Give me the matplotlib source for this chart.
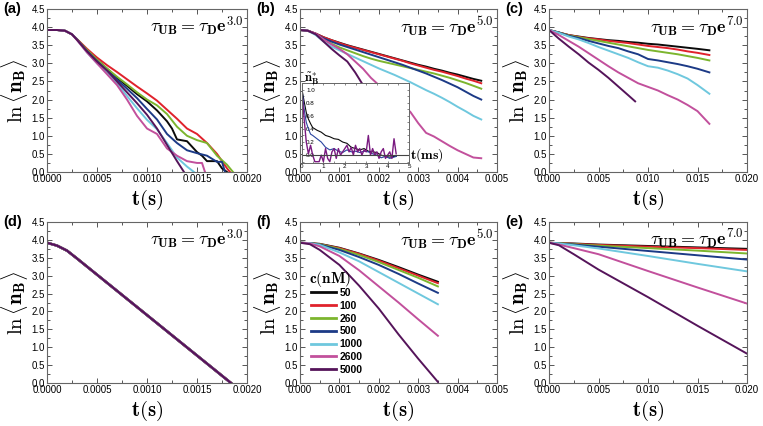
import numpy as np
import matplotlib
matplotlib.use('Agg')
import matplotlib.pyplot as plt
from matplotlib.ticker import AutoMinorLocator, FormatStrFormatter, MultipleLocator

plt.rcParams['mathtext.fontset'] = 'cm'
plt.rcParams['font.family'] = ['Liberation Sans', 'DejaVu Sans']

# concentrations c(nM) and the colour used for each
conc = ['50', '100', '260', '500', '1000', '2600', '5000']
colors = ['#0a0a0a', '#e0222c', '#7cb52e', '#1c3a86', '#6fc8de', '#c2509c', '#55145a']

# ---- panel (a): simulation, tau_UB = tau_D e^3.0 ----
a_t = [
    [0, 0.0001, 0.00018, 0.00025, 0.0003, 0.0004, 0.0005, 0.0006, 0.0007, 0.0008, 0.0009, 0.001, 0.0011, 0.0012,
     0.00125, 0.0013, 0.0014, 0.0015, 0.00155, 0.0016, 0.0017, 0.00175, 0.0018],
    [0, 0.0001, 0.00018, 0.00025, 0.0003, 0.0004, 0.0005, 0.0006, 0.0007, 0.0008, 0.0009, 0.001, 0.0011, 0.0012,
     0.0013, 0.0014, 0.0015, 0.0016, 0.0017, 0.00175, 0.0018, 0.00183],
    [0, 0.0001, 0.00018, 0.00025, 0.0003, 0.0004, 0.0005, 0.0006, 0.0007, 0.0008, 0.0009, 0.001, 0.0011, 0.0012,
     0.0013, 0.0014, 0.0015, 0.0016, 0.0017, 0.0018, 0.00186],
    [0, 0.0001, 0.00018, 0.00025, 0.0003, 0.0004, 0.0005, 0.0006, 0.0007, 0.0008, 0.0009, 0.001, 0.0011, 0.0012,
     0.0013, 0.0014, 0.0015, 0.0016, 0.0017, 0.00175, 0.00178],
    [0, 0.0001, 0.00018, 0.00025, 0.0003, 0.0004, 0.0005, 0.0006, 0.0007, 0.0008, 0.0009, 0.001, 0.0011, 0.0012,
     0.0013, 0.0014, 0.00147],
    [0, 0.0001, 0.00018, 0.00025, 0.0003, 0.0004, 0.0005, 0.0006, 0.0007, 0.0008, 0.0009, 0.001, 0.0011, 0.0012,
     0.0013, 0.0014, 0.0015, 0.00155, 0.00158],
    [0, 0.0001, 0.00018, 0.00025, 0.0003, 0.0004, 0.0005, 0.0006, 0.0007, 0.0008, 0.0009, 0.001, 0.0011, 0.0012,
     0.0013, 0.00137],
]
a_y = [
    [3.92, 3.92, 3.9, 3.8, 3.66, 3.36, 3.1, 2.85, 2.6, 2.38, 2.15, 1.95, 1.7, 1.4,
     1.2, 0.9, 0.85, 0.55, 0.45, 0.3, 0.3, 0.1, 0.0],
    [3.92, 3.92, 3.9, 3.8, 3.67, 3.4, 3.16, 2.95, 2.76, 2.56, 2.36, 2.17, 1.97, 1.72,
     1.47, 1.2, 1.05, 0.8, 0.5, 0.3, 0.1, 0.0],
    [3.92, 3.92, 3.9, 3.8, 3.66, 3.37, 3.1, 2.86, 2.63, 2.42, 2.2, 2.0, 1.84, 1.6,
     1.25, 1.0, 0.88, 0.8, 0.45, 0.2, 0.0],
    [3.92, 3.92, 3.9, 3.8, 3.66, 3.34, 3.06, 2.8, 2.55, 2.3, 2.04, 1.74, 1.45, 1.05,
     0.8, 0.6, 0.52, 0.45, 0.28, 0.28, 0.0],
    [3.92, 3.92, 3.9, 3.8, 3.65, 3.3, 3.0, 2.74, 2.45, 2.1, 1.76, 1.44, 1.18, 0.8,
     0.4, 0.15, 0.0],
    [3.92, 3.92, 3.9, 3.8, 3.64, 3.3, 3.0, 2.7, 2.4, 2.0, 1.55, 1.2, 1.05, 0.65,
     0.45, 0.3, 0.25, 0.25, 0.0],
    [3.92, 3.92, 3.9, 3.8, 3.65, 3.33, 3.05, 2.8, 2.5, 2.2, 1.9, 1.58, 1.2, 0.75,
     0.3, 0.0],
]

# ---- panel (b): simulation, tau_UB = tau_D e^5.0 ----
b_t = [0, 0.0002, 0.0004, 0.0006, 0.0008, 0.001, 0.0012, 0.0014, 0.0016, 0.0018, 0.002, 0.0022,
       0.0024, 0.0026, 0.0028, 0.003, 0.0032, 0.0034, 0.0036, 0.0038, 0.004, 0.0042, 0.0044, 0.0046]
b_y = [
    [3.92, 3.9, 3.82, 3.72, 3.64, 3.57, 3.5, 3.44, 3.38, 3.32, 3.26, 3.2,
     3.14, 3.08, 3.02, 2.96, 2.91, 2.85, 2.8, 2.74, 2.69, 2.63, 2.57, 2.52],
    [3.92, 3.9, 3.82, 3.72, 3.64, 3.56, 3.49, 3.43, 3.37, 3.31, 3.25, 3.19,
     3.13, 3.07, 3.0, 2.94, 2.88, 2.82, 2.77, 2.71, 2.65, 2.58, 2.52, 2.45],
    [3.92, 3.9, 3.8, 3.66, 3.54, 3.44, 3.36, 3.28, 3.2, 3.13, 3.07, 3.02,
     2.97, 2.92, 2.87, 2.82, 2.77, 2.72, 2.66, 2.6, 2.53, 2.46, 2.38, 2.3],
    [3.92, 3.9, 3.81, 3.69, 3.6, 3.52, 3.45, 3.38, 3.31, 3.24, 3.17, 3.1,
     3.03, 2.96, 2.88, 2.8, 2.72, 2.63, 2.54, 2.44, 2.34, 2.22, 2.1, 2.0],
    [3.92, 3.9, 3.78, 3.6, 3.46, 3.36, 3.26, 3.16, 3.06, 2.96, 2.86, 2.77,
     2.68, 2.58, 2.48, 2.37, 2.26, 2.16, 2.05, 1.93, 1.8, 1.68, 1.55, 1.45],
    [3.92, 3.9, 3.82, 3.66, 3.52, 3.4, 3.25, 3.05, 2.85, 2.6, 2.4, 2.2,
     2.0, 1.85, 1.66, 1.35, 1.08, 0.98, 0.85, 0.72, 0.6, 0.5, 0.4, 0.38],
    [3.92, 3.9, 3.8, 3.6, 3.4, 3.22, 3.05, 2.75, 2.4, 2.0, 1.6, 1.2,
     0.8],
]

# inset of (b): normalised fluctuation n_B* versus t (ms)
ins_t = [0, 0.1, 0.2, 0.3, 0.4, 0.5, 0.7, 0.9, 1.1, 1.3, 1.5, 1.7, 1.9, 2.1, 2.3, 2.5, 2.7, 2.9,
         3.1, 3.3, 3.5, 3.7, 3.9, 4.1, 4.3, 4.4]
ins_black = [1.0, 0.82, 0.65, 0.55, 0.48, 0.42, 0.38, 0.35, 0.3, 0.28, 0.25, 0.24, 0.2, 0.18, 0.12, 0.1, 0.08,
             0.1, 0.06, 0.05, 0.04, 0.0, -0.02, -0.03, -0.02, -0.02]
ins_blue = [1.0, 0.7, 0.5, 0.4, 0.32, 0.3, 0.25, 0.2, 0.12, 0.08, 0.1, 0.06, 0.04, 0.08, 0.05, 0.06, 0.04,
            0.06, 0.05, 0.02, 0.0, -0.04, -0.02, -0.05, -0.03, -0.02]
ins_pt = [0, 0.1, 0.2, 0.3, 0.4, 0.5, 0.6, 0.7, 0.8, 0.9, 1.0, 1.1, 1.2, 1.3, 1.4, 1.5, 1.6, 1.7, 1.8, 1.9,
          2.0, 2.1, 2.2, 2.3, 2.4, 2.5, 2.6, 2.7, 2.8, 2.9, 3.0, 3.1, 3.2, 3.3, 3.4, 3.5, 3.6, 3.7, 3.8, 3.9,
          4.0, 4.1, 4.2, 4.3, 4.4]
ins_purple = [0.95, 0.55, 0.2, 0.02, 0.15, 0.0, -0.1, -0.1, -0.1, 0.0, -0.1, 0.1, -0.05, -0.1, 0.05, 0.1,
              -0.05, 0.1, 0.0, 0.05, 0.1, 0.15, 0.05, 0.12, 0.0, 0.15, 0.05, 0.1, 0.0, 0.08, 0.05, 0.3,
              0.0, 0.1, 0.0, 0.05, -0.05, 0.05, 0.1, -0.05, 0.0, 0.05, -0.05, 0.25, 0.02]

# ---- panel (c): simulation, tau_UB = tau_D e^7.0 ----
c_t = [0, 0.001, 0.002, 0.003, 0.004, 0.005, 0.006, 0.007, 0.008, 0.009, 0.010, 0.011, 0.012,
       0.013, 0.014, 0.015, 0.0162]
c_y = [
    [3.92, 3.85, 3.78, 3.74, 3.7, 3.67, 3.64, 3.62, 3.59, 3.57, 3.54, 3.52, 3.49, 3.46, 3.43, 3.4, 3.36],
    [3.92, 3.85, 3.78, 3.73, 3.69, 3.66, 3.62, 3.59, 3.56, 3.52, 3.48, 3.45, 3.42, 3.38, 3.33, 3.29, 3.23],
    [3.92, 3.85, 3.77, 3.72, 3.67, 3.62, 3.57, 3.52, 3.47, 3.42, 3.37, 3.33, 3.29, 3.25, 3.2, 3.15, 3.08],
    [3.92, 3.85, 3.76, 3.7, 3.62, 3.55, 3.48, 3.42, 3.33, 3.25, 3.12, 3.08, 3.03, 2.98, 2.92, 2.85, 2.75],
    [3.92, 3.84, 3.74, 3.66, 3.56, 3.45, 3.35, 3.25, 3.15, 3.03, 2.92, 2.88, 2.8, 2.7, 2.58, 2.4, 2.16],
    [3.92, 3.78, 3.62, 3.46, 3.28, 3.1, 2.92, 2.75, 2.6, 2.45, 2.35, 2.25, 2.12, 2.0, 1.85, 1.68, 1.33],
]
c_tp = [0, 0.001, 0.002, 0.003, 0.004, 0.005, 0.006, 0.007, 0.008, 0.0087]
c_yp = [3.92, 3.68, 3.46, 3.25, 3.02, 2.82, 2.6, 2.36, 2.12, 1.95]

# ---- panel (d): theory, tau_UB = tau_D e^3.0 ----
d_t = [0, 0.0001, 0.0002, 0.0003, 0.00184]
d_y = [3.92, 3.84, 3.7, 3.48, 0.0]

# ---- panel (f): theory, tau_UB = tau_D e^5.0 ----
f_t = [0, 0.00025, 0.0005, 0.001, 0.0015, 0.002, 0.0025, 0.003, 0.0035]
f_y = [
    [3.92, 3.91, 3.89, 3.78, 3.62, 3.44, 3.24, 3.03, 2.83],
    [3.92, 3.91, 3.88, 3.77, 3.61, 3.42, 3.21, 3.0, 2.79],
    [3.92, 3.91, 3.88, 3.75, 3.58, 3.38, 3.16, 2.94, 2.7],
    [3.92, 3.91, 3.87, 3.72, 3.52, 3.3, 3.05, 2.78, 2.52],
    [3.92, 3.91, 3.86, 3.65, 3.4, 3.1, 2.8, 2.5, 2.2],
    [3.92, 3.9, 3.82, 3.55, 3.15, 2.7, 2.25, 1.78, 1.32],
    [3.92, 3.88, 3.72, 3.3, 2.72, 2.08, 1.36, 0.68, 0.03],
]

# ---- panel (e): theory, tau_UB = tau_D e^7.0 ----
e_t = [0, 0.001, 0.0025, 0.005, 0.010, 0.015, 0.020]
e_y = [
    [3.92, 3.91, 3.9, 3.87, 3.83, 3.79, 3.75],
    [3.92, 3.91, 3.89, 3.86, 3.81, 3.77, 3.72],
    [3.92, 3.91, 3.88, 3.84, 3.77, 3.7, 3.62],
    [3.92, 3.9, 3.87, 3.81, 3.69, 3.57, 3.45],
    [3.92, 3.9, 3.85, 3.76, 3.55, 3.33, 3.12],
    [3.92, 3.87, 3.77, 3.6, 3.13, 2.67, 2.22],
    [3.92, 3.85, 3.6, 3.17, 2.4, 1.6, 0.82],
]

W, H = 763, 426
fig = plt.figure(figsize=(W / 100, H / 100), dpi=100)


def px_axes(x0, y0, x1, y1):
    # axes box given in pixels of the 763x426 picture
    return fig.add_axes([x0 / W, 1 - y1 / H, (x1 - x0) / W, (y1 - y0) / H])


def style_axes(ax, xmax, xstep, fmt, exp, label):
    ax.set_xlim(0, xmax)
    ax.set_ylim(0, 4.5)
    ax.xaxis.set_major_locator(MultipleLocator(xstep))
    ax.xaxis.set_major_formatter(FormatStrFormatter(fmt))
    ax.yaxis.set_major_locator(MultipleLocator(0.5))
    ax.yaxis.set_major_formatter(FormatStrFormatter('%.1f'))
    ax.xaxis.set_minor_locator(AutoMinorLocator(2))
    ax.yaxis.set_minor_locator(AutoMinorLocator(2))
    ax.tick_params(which='both', direction='in', top=True, right=True, color='#555555',
                   labelsize=7, pad=1.5, width=0.7)
    ax.tick_params(which='major', length=3.5)
    ax.tick_params(which='minor', length=2)
    for s in ax.spines.values():
        s.set_color('#666666')
        s.set_linewidth(0.8)
    ax.set_xlabel(r'$\mathbf{t(s)}$', fontsize=15, labelpad=3)
    ax.set_ylabel(r'$\ln\langle\mathbf{n}_{\mathbf{B}}\rangle$', fontsize=15, labelpad=1)
    ax.text(0.985, 0.895, r'$\tau_{\mathbf{UB}}=\tau_{\mathbf{D}}\mathbf{e}^{\mathbf{%s}}$' % exp,
            transform=ax.transAxes, ha='right', va='center', fontsize=13)
    fig.text(ax.get_position().x0 - 44 / W, ax.get_position().y1, label,
             fontsize=10.5, fontweight='bold', ha='left', va='center')


lw = 1.4

# (a)
ax = px_axes(47, 9, 247, 172)
for i in range(len(conc)):
    ax.plot(a_t[i], a_y[i], color=colors[i], lw=lw)
style_axes(ax, 0.002, 0.0005, '%.4f', '3.0', '(a)')

# (b)
ax = px_axes(300, 9, 497, 172)
for i in range(len(conc)):
    ax.plot(b_t[:len(b_y[i])], b_y[i], color=colors[i], lw=lw)
style_axes(ax, 0.005, 0.001, '%.3f', '5.0', '(b)')

ins = px_axes(302, 83, 409, 163)
ins.plot(ins_t, ins_black, color=colors[0], lw=0.8)
ins.plot(ins_t, ins_blue, color='#2a45a0', lw=0.8)
ins.plot(ins_pt, ins_purple, color='#7a1a80', lw=1.0)
ins.axhline(0, color='#444444', lw=0.8)
ins.set_xlim(0, 5)
ins.set_ylim(-0.12, 1.1)
ins.xaxis.set_major_locator(MultipleLocator(1))
ins.yaxis.set_major_locator(MultipleLocator(0.2))
ins.yaxis.set_major_formatter(FormatStrFormatter('%.1f'))
ins.xaxis.set_minor_locator(AutoMinorLocator(2))
ins.yaxis.set_minor_locator(AutoMinorLocator(2))
ins.tick_params(which='both', direction='in', top=True, right=True, labelsize=4.5, pad=1,
                length=1.5, width=0.5, color='#555555')
# y tick labels of the inset sit inside its frame
ins.tick_params(axis='y', pad=-3)
for lab in ins.get_yticklabels():
    lab.set_horizontalalignment('left')
for s in ins.spines.values():
    s.set_color('#666666')
    s.set_linewidth(0.7)
ins.text(0.02, 0.95, r'$\tilde{\mathbf{n}}^{*}_{\mathbf{B}}$', transform=ins.transAxes,
         fontsize=9, ha='left', va='bottom')
ins.text(1.01, 0.1, r'$\mathbf{t(ms)}$', transform=ins.transAxes, fontsize=10, ha='left', va='center')

# (c)
ax = px_axes(549, 9, 747, 172)
for i in range(len(conc) - 1):
    ax.plot(c_t, c_y[i], color=colors[i], lw=lw)
ax.plot(c_tp, c_yp, color=colors[-1], lw=lw)
style_axes(ax, 0.02, 0.005, '%.3f', '7.0', '(c)')

# (d)
ax = px_axes(47, 222, 247, 383)
for i in range(len(conc)):
    ax.plot(d_t, d_y, color=colors[i], lw=lw + 0.4 - 0.05 * i)
style_axes(ax, 0.002, 0.0005, '%.4f', '3.0', '(d)')

# (f)
ax = px_axes(300, 222, 497, 383)
for i in range(len(conc)):
    ax.plot(f_t, f_y[i], color=colors[i], lw=lw, label=conc[i])
style_axes(ax, 0.005, 0.001, '%.3f', '5.0', '(f)')
leg = ax.legend(loc='upper left', bbox_to_anchor=(0.02, 0.635), frameon=False,
                prop={'weight': 'bold', 'size': 7.5}, handlelength=2.4, handletextpad=0.3,
                labelspacing=0.27, borderpad=0.2)
for line in leg.get_lines():
    line.set_linewidth(2)
ax.text(0.155, 0.645, r'$\mathbf{c(nM)}$', transform=ax.transAxes, fontsize=11,
        ha='center', va='center')

# (e)
ax = px_axes(549, 222, 747, 383)
for i in range(len(conc)):
    ax.plot(e_t, e_y[i], color=colors[i], lw=lw)
style_axes(ax, 0.02, 0.005, '%.3f', '7.0', '(e)')

fig.savefig('out.png', dpi=100)
